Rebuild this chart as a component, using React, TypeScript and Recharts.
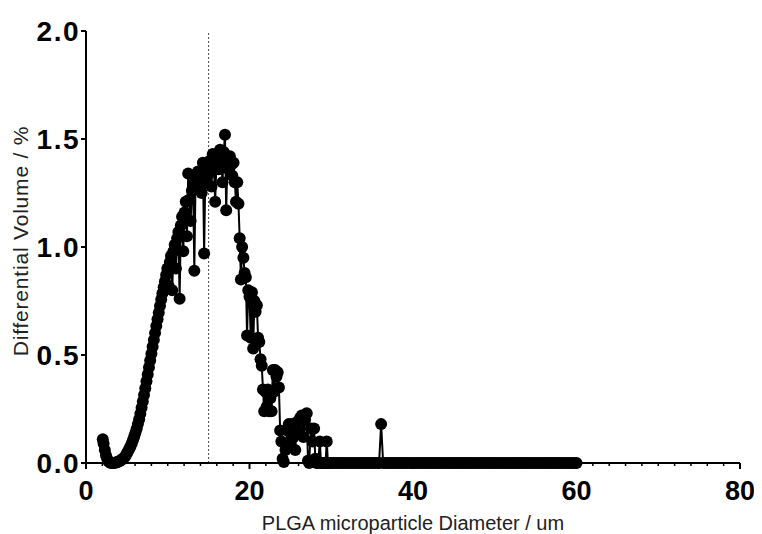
import React from "react";
import { LineChart, Line, XAxis, YAxis, ReferenceLine, Label } from "recharts";

// Particle diameter (um) and differential volume (%) — rising edge
const riseDiameters = [
  2.05, 2.15, 2.3, 2.45, 2.6, 2.75, 2.9, 3.05, 3.2, 3.35,
  3.5, 3.65, 3.8, 3.95, 4.1, 4.25, 4.4, 4.55, 4.7, 4.85,
  5.0, 5.15, 5.3, 5.45, 5.6, 5.75, 5.9, 6.05, 6.2, 6.35,
  6.5, 6.65, 6.8, 6.95, 7.1, 7.25, 7.4, 7.55, 7.7, 7.85,
  8.0, 8.15, 8.3, 8.45, 8.6, 8.75, 8.9, 9.05, 9.2, 9.35,
  9.5, 9.65,
];
const riseVolumes = [
  0.11, 0.09, 0.06, 0.035, 0.018, 0.008, 0.003, 0, 0, 0,
  0.001, 0.002, 0.004, 0.006, 0.009, 0.012, 0.016, 0.021, 0.027, 0.034,
  0.045, 0.055, 0.066, 0.078, 0.092, 0.107, 0.123, 0.14, 0.159, 0.18,
  0.203, 0.228, 0.256, 0.285, 0.315, 0.346, 0.378, 0.41, 0.442, 0.474,
  0.506, 0.538, 0.57, 0.602, 0.634, 0.665, 0.696, 0.727, 0.757, 0.786,
  0.814, 0.84,
];

// Peak region
const peakDiameters = [
  9.8, 9.95, 10.1, 10.25, 10.4, 10.55, 10.7, 10.85, 11.0, 11.15,
  11.3, 11.45, 11.6, 11.75, 11.9, 12.05, 12.2, 12.35, 12.5, 12.65,
  12.8, 12.95, 13.1, 13.25, 13.4, 13.55, 13.7, 13.85, 14.0, 14.15,
  14.3, 14.45, 14.6, 14.75, 14.9, 15.05, 15.2, 15.35, 15.5, 15.65,
  15.8, 15.95, 16.1, 16.25, 16.4, 16.55, 16.7, 16.85, 17.0, 17.15,
  17.3, 17.45, 17.6, 17.75, 17.9, 18.05, 18.2, 18.35, 18.5, 18.65,
  18.8, 18.95, 19.1, 19.25, 19.4, 19.55, 19.7, 19.85, 20.0, 20.15,
  20.3, 20.45, 20.6, 20.75, 20.9, 21.05, 21.2, 21.35, 21.5, 21.65,
  21.8, 21.95, 22.1, 22.25, 22.4, 22.55, 22.7, 22.85, 23.0, 23.15,
  23.3, 23.45, 23.6,
];
const peakVolumes = [
  0.87, 0.9, 0.82, 0.93, 0.96, 0.8, 0.98, 1.01, 0.9, 1.04,
  1.07, 0.76, 1.1, 1.14, 0.98, 1.16, 1.21, 1.05, 1.34, 1.22,
  1.12, 1.26, 1.29, 0.89, 1.31, 1.27, 1.35, 1.3, 1.33, 1.25,
  1.39, 0.97, 1.35, 1.3, 1.38, 1.34, 1.4, 1.28, 1.43, 1.37,
  1.21, 1.38, 1.42, 1.36, 1.45, 1.4, 1.3, 1.44, 1.52, 1.17,
  1.4, 1.36, 1.42, 1.38, 1.33, 1.39, 1.3, 1.21, 1.3, 1.2,
  1.04, 0.85, 1.0, 0.95, 0.88, 0.86, 0.59, 0.8, 0.77, 0.58,
  0.79, 0.53, 0.75, 0.7, 0.73, 0.58, 0.56, 0.48, 0.45, 0.34,
  0.24, 0.33, 0.26, 0.34, 0.24, 0.3, 0.24, 0.43, 0.33, 0.43,
  0.4, 0.42, 0.35,
];

// Low shoulder after the peak
const shoulderDiameters = [
  23.75, 23.9, 24.05, 24.2, 24.4, 24.6, 24.8, 25.0, 25.2, 25.4,
  25.6, 25.8, 26.0, 26.2, 26.4, 26.6, 26.8, 27.0, 27.15, 27.3,
  27.5, 27.7, 27.9, 28.05, 28.2, 28.4, 28.6, 28.75, 28.9, 29.1,
  29.3, 29.45, 29.6, 29.8,
];
const shoulderVolumes = [
  0.15, 0.1, 0.02, 0.005, 0.06, 0.15, 0.18, 0.1, 0.18, 0.12,
  0.06, 0.19, 0.15, 0.21, 0.22, 0.12, 0.2, 0.23, 0.01, 0.0,
  0.16, 0.1, 0.16, 0.02, 0.0, 0.0, 0.1, 0.0, 0.0, 0.0,
  0.0, 0.1, 0.0, 0.0,
];

// Tail (mostly empty bins, one isolated count near 36 um)
const tailDiameters = [
  30.0, 30.3, 30.6, 30.9, 31.2, 31.5, 31.8, 32.1, 32.4, 32.7,
  33.0, 33.3, 33.6, 33.9, 34.2, 34.5, 34.8, 35.1, 35.4, 35.7,
  35.85, 36.1, 36.35, 36.6, 36.9, 37.2, 37.5, 37.8, 38.1, 38.4,
  38.7, 39.0, 39.3, 39.6, 39.9, 40.2, 40.5, 40.8, 41.1, 41.4,
  41.7, 42.0, 42.3, 42.6, 42.9, 43.2, 43.5, 43.8, 44.1, 44.4,
  44.7, 45.0, 45.3, 45.6, 45.9, 46.2, 46.5, 46.8, 47.1, 47.4,
  47.7, 48.0, 48.3, 48.6, 48.9, 49.2, 49.5, 49.8, 50.1, 50.4,
  50.7, 51.0, 51.3, 51.6, 51.9, 52.2, 52.5, 52.8, 53.1, 53.4,
  53.7, 54.0, 54.3, 54.6, 54.9, 55.2, 55.5, 55.8, 56.1, 56.4,
  56.7, 57.0, 57.3, 57.6, 57.9, 58.2, 58.5, 58.8, 59.1, 59.4,
  59.7, 60.0,
];
const tailVolumes = [
  0, 0, 0, 0, 0, 0, 0, 0, 0, 0,
  0, 0, 0, 0, 0, 0, 0, 0, 0, 0,
  0, 0.18, 0, 0, 0, 0, 0, 0, 0, 0,
  0, 0, 0, 0, 0, 0, 0, 0, 0, 0,
  0, 0, 0, 0, 0, 0, 0, 0, 0, 0,
  0, 0, 0, 0, 0, 0, 0, 0, 0, 0,
  0, 0, 0, 0, 0, 0, 0, 0, 0, 0,
  0, 0, 0, 0, 0, 0, 0, 0, 0, 0,
  0, 0, 0, 0, 0, 0, 0, 0, 0, 0,
  0, 0, 0, 0, 0, 0, 0, 0, 0, 0,
  0, 0,
];

const xTicks = [
  0, 2, 4, 6, 8, 10, 12, 14, 16, 18, 20, 22, 24, 26, 28, 30, 32, 34, 36, 38,
  40, 42, 44, 46, 48, 50, 52, 54, 56, 58, 60, 62, 64, 66, 68, 70, 72, 74, 76, 78, 80,
];
const xMajorTicks = [0, 20, 40, 60, 80];
const yTicks = [0, 0.5, 1.0, 1.5, 2.0];
const meanDiameter = 15;

const xLabel = "PLGA microparticle Diameter / um";
const yLabel = "Differential Volume / %";

const diameters = [...riseDiameters, ...peakDiameters, ...shoulderDiameters, ...tailDiameters];
const volumes = [...riseVolumes, ...peakVolumes, ...shoulderVolumes, ...tailVolumes];
const data = diameters.map((d, i) => ({ d, v: volumes[i] ?? 0 }));

const FONT = "'Liberation Sans', Arial, Helvetica, sans-serif";

const XTick = (props: any) => {
  const { x, y, payload } = props;
  const major = xMajorTicks.includes(payload.value);
  return (
    <g>
      <line
        x1={x}
        x2={x}
        y1={y}
        y2={y + (major ? 6 : 3)}
        stroke="#000"
        strokeWidth={major ? 2 : 1.5}
      />
      {major && (
        <text
          x={x}
          y={y + 37}
          textAnchor="middle"
          fontFamily={FONT}
          fontWeight="bold"
          fontSize={27}
          fill="#000"
        >
          {payload.value}
        </text>
      )}
    </g>
  );
};

const YTick = (props: any) => {
  const { x, y, payload } = props;
  return (
    <text
      x={x}
      y={y}
      dy="0.36em"
      textAnchor="end"
      fontFamily={FONT}
      fontWeight="bold"
      fontSize={28}
      letterSpacing={1.5}
      fill="#000"
    >
      {Number(payload.value).toFixed(1)}
    </text>
  );
};

export default function App() {
  return (
    <div style={{ width: 754, height: 526, background: "#fff" }}>
      <LineChart
        width={754}
        height={526}
        data={data}
        margin={{ top: 23, right: 22, left: 0, bottom: 0 }}
      >
        <XAxis
          dataKey="d"
          type="number"
          domain={[0, 80]}
          ticks={xTicks}
          interval={0}
          height={71}
          tickLine={false}
          tickSize={0}
          tickMargin={0}
          tick={<XTick />}
          axisLine={{ stroke: "#000", strokeWidth: 2 }}
        >
          <Label
            content={(p: any) => {
              const vb = p.viewBox || {};
              return (
                <text
                  x={vb.x + vb.width / 2}
                  y={vb.y + 67}
                  textAnchor="middle"
                  fontFamily={FONT}
                  fontSize={20}
                  fill="#222"
                >
                  {xLabel}
                </text>
              );
            }}
          />
        </XAxis>
        <YAxis
          type="number"
          domain={[0, 2]}
          ticks={yTicks}
          width={78}
          interval={0}
          tickSize={5}
          tickMargin={1}
          tickLine={{ stroke: "#000", strokeWidth: 2 }}
          axisLine={{ stroke: "#000", strokeWidth: 2 }}
          tick={<YTick />}
        >
          <Label
            content={(p: any) => {
              const vb = p.viewBox || {};
              const cx = vb.x + 12;
              const cy = vb.y + vb.height / 2 - 6;
              return (
                <text
                  x={cx}
                  y={cy}
                  textAnchor="middle"
                  dominantBaseline="central"
                  transform={`rotate(-90, ${cx}, ${cy})`}
                  fontFamily={FONT}
                  fontSize={21}
                  letterSpacing={0.8}
                  fill="#222"
                >
                  {yLabel}
                </text>
              );
            }}
          />
        </YAxis>
        <ReferenceLine
          x={meanDiameter}
          stroke="#444"
          strokeWidth={1}
          strokeDasharray="2 2"
        />
        <Line
          dataKey="v"
          type="linear"
          stroke="#000"
          strokeWidth={2}
          dot={{ r: 6, fill: "#000", stroke: "#000", strokeWidth: 0 }}
          isAnimationActive={false}
        />
      </LineChart>
    </div>
  );
}
